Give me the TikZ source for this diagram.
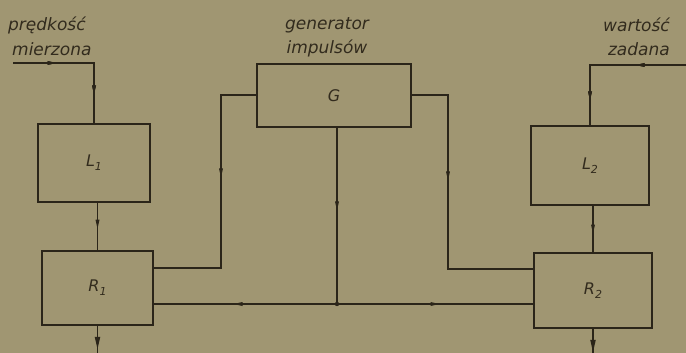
\documentclass[tikz,border=0pt]{standalone}
\usepackage{fontspec}
\setmainfont{DejaVu Sans}
\usetikzlibrary{decorations.markings}
\definecolor{bgc}{HTML}{A09672}
\definecolor{ink}{HTML}{2B2519}
\definecolor{txt}{HTML}{322B1D}
\newcommand{\blab}[2]{{\itshape #1}\raisebox{-4pt}{\fontsize{11}{11}\selectfont\itshape #2}}
\tikzset{
  blk/.style={draw=ink, line width=1.8pt, fill=bgc, inner sep=0pt, text=txt,
    font=\fontsize{16}{16}\selectfont},
  wire/.style={draw=ink, line width=1.6pt},
  captxt/.style={text=txt, font=\fontsize{17}{20}\selectfont\itshape, inner sep=0pt, align=center},
  tipat/.style={postaction={decorate}, decoration={markings,
      mark=at position #1 with {\fill[ink] (4.5pt,0pt) -- (-4.5pt,2pt) -- (-4.5pt,-2pt) -- cycle;}}},
  bigtipat/.style={postaction={decorate}, decoration={markings,
      mark=at position #1 with {\fill[ink] (6pt,0pt) -- (-6pt,2.8pt) -- (-6pt,-2.8pt) -- cycle;}}},
}
\begin{document}
\begin{tikzpicture}[x=1pt,y=-1pt]
\fill[bgc] (0,0) rectangle (686,353);
\useasboundingbox (0,0) rectangle (686,353);

% blocks
\node[blk, minimum width=112pt, minimum height=78pt] (L1) at (94,163) {\blab{L}{1}};
\node[blk, minimum width=111pt, minimum height=74pt] (R1) at (97.5,288) {\blab{R}{1}};
\node[blk, minimum width=154pt, minimum height=63pt] (G) at (334,95.5) {\itshape G};
\node[blk, minimum width=118pt, minimum height=79pt] (L2) at (590,165.5) {\blab{L}{2}};
\node[blk, minimum width=118pt, minimum height=75pt] (R2) at (593,290.5) {\blab{R}{2}};

% captions
\node[captxt, anchor=west] (c1a) at (8,25) {prędkość};
\node[captxt, anchor=west] (c1b) at (12,49) {mierzona};
\node[captxt] (c2a) at (327,25) {generator};
\node[captxt] (c2b) at (327,48) {impulsów};
\node[captxt, anchor=east] (c3a) at (670,25) {wartość};
\node[captxt, anchor=east] (c3b) at (670,49) {zadana};

% coordinates
\coordinate (in1) at (13,63);
\coordinate (in2) at (686,65);
\coordinate (a1) at (221,268);
\coordinate (a2) at (448,269);
\coordinate (j) at (337,304);
\coordinate (o1) at (97.5,353);
\coordinate (o2) at (593,353);

% wires
\draw[wire, tipat=39pt, tipat=108pt] (in1) -| (L1.north);
\draw[wire, tipat=0.45] (R1.north |- L1.south) -- (R1.north);
\draw[wire, tipat=46pt, tipat=127pt] (in2) -| (L2.north);
\draw[wire, tipat=0.5] (R2.north |- L2.south) -- (R2.north);
\draw[wire, tipat=113pt] ([yshift=0.5pt]G.west) -| (a1) -- (R1.east |- a1);
\draw[wire, tipat=117pt] ([yshift=0.5pt]G.east) -| (a2) -- (R2.west |- a2);
\draw[wire, tipat=78pt] (j |- G.south) -- (j);
\draw[wire, tipat=99pt] (j) -- (R1.east |- j);
\draw[wire, tipat=98pt] (j) -- (R2.west |- j);
\fill[ink] (j) circle (2.2pt);
\draw[wire, bigtipat=17pt] (R1.south) -- (o1);
\draw[wire, bigtipat=17pt] (R2.south) -- (o2);
\end{tikzpicture}
\end{document}
